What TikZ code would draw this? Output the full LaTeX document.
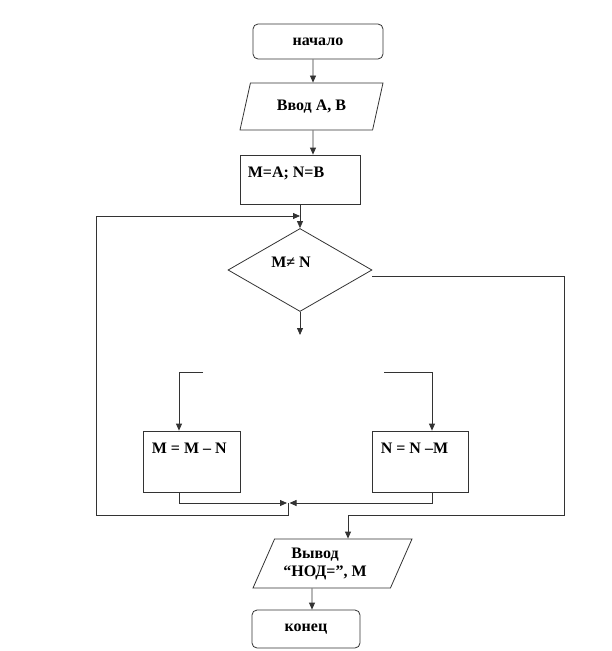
\documentclass[tikz,border=0pt]{standalone}
\usepackage{fontspec}
\setmainfont{Liberation Serif}
\usepackage{tikz}
\usetikzlibrary{arrows.meta, shapes.geometric}
\tikzstyle{arrow} = [line width=0.8pt, draw=black!80, -{Triangle[length=7pt,width=6pt]}]
\tikzstyle{line} = [line width=0.8pt, draw=black!80]
\tikzstyle{startstop} = [draw=black!80, line width=0.8pt, rounded corners=5pt, inner sep=0pt]
\tikzstyle{io} = [trapezium, trapezium left angle=59, trapezium right angle=121, trapezium stretches body, draw=black!80, line width=0.8pt, inner sep=2pt, align=left]
\tikzstyle{process} = [draw=black!80, line width=0.8pt, inner sep=0pt]
\tikzstyle{decision} = [diamond, draw=black!80, line width=0.8pt, inner sep=0pt]
\tikzstyle{txt} = [anchor=north west, inner sep=0pt, xshift=9pt, yshift=-12pt]

\begin{document}
\begin{tikzpicture}[x=1pt, y=-1pt, font=\fontsize{16}{18}\selectfont\bfseries]
    \useasboundingbox (0,0) rectangle (612,651);
    \node[startstop, minimum width=130pt, minimum height=35pt] (start) at (318,41.5) {начало};
    \node[io, minimum width=143pt, minimum height=47pt] (input) at (311.5,106.5) {Ввод А, В};
    \node[process, minimum width=120pt, minimum height=49pt,
          label={[txt, xshift=-1pt]north west:M=A; N=B}] (init) at (300,179.5) {};
    \node[decision, minimum width=144pt, minimum height=83pt,
          label={[xshift=-9pt, yshift=8pt]center:M≠ N}] (cond) at (300,270) {};
    \node[process, minimum width=97pt, minimum height=61pt,
          label={[txt]north west:M = M – N}] (stepm) at (191.5,461.5) {};
    \node[process, minimum width=96pt, minimum height=61pt,
          label={[txt]north west:N = N –M}] (stepn) at (420,461.5) {};
    \node[io, minimum width=159pt, minimum height=49pt] (output) at (332.5,563.5)
          {\hspace*{8pt}Вывод\\“НОД=”, М\hspace*{15pt}};
    \node[startstop, minimum width=108pt, minimum height=38pt] (stop) at (306,629) {конец};

    \coordinate (back) at (300,216);
    \coordinate (next) at (300,335);
    \coordinate (mfree) at (203,372);
    \coordinate (nfree) at (384,372);
    \coordinate (merge) at (288,503);
    \coordinate (loopcorner) at (96,515);
    \coordinate (exitcorner) at (564,515);

    \draw[arrow] ([xshift=-5pt]start.south) -- ([xshift=1.5pt]input.north);
    \draw[arrow] ([xshift=1.5pt]input.south) -- ([xshift=13pt]init.north);
    \draw[arrow] (init) -- (cond);
    \draw[arrow] (cond) -- (next);
    \draw[arrow] (mfree) -| ([xshift=-12.5pt]stepm.north);
    \draw[arrow] (nfree) -| ([xshift=12pt]stepn.north);
    \draw[arrow] ([xshift=-12.5pt]stepm.south) |- ([xshift=-1pt]merge);
    \draw[arrow] ([xshift=12pt]stepn.south) |- ([xshift=1.5pt]merge);
    \draw[line] (merge) |- (loopcorner);
    \draw[arrow] (loopcorner) |- (back);
    \draw[arrow] ([yshift=-6pt]cond.east) -| (exitcorner) -| ([xshift=15.5pt]output.north);
    \draw[arrow] ([xshift=-20.5pt]output.south) -- ([xshift=6pt]stop.north);
\end{tikzpicture}
\end{document}
